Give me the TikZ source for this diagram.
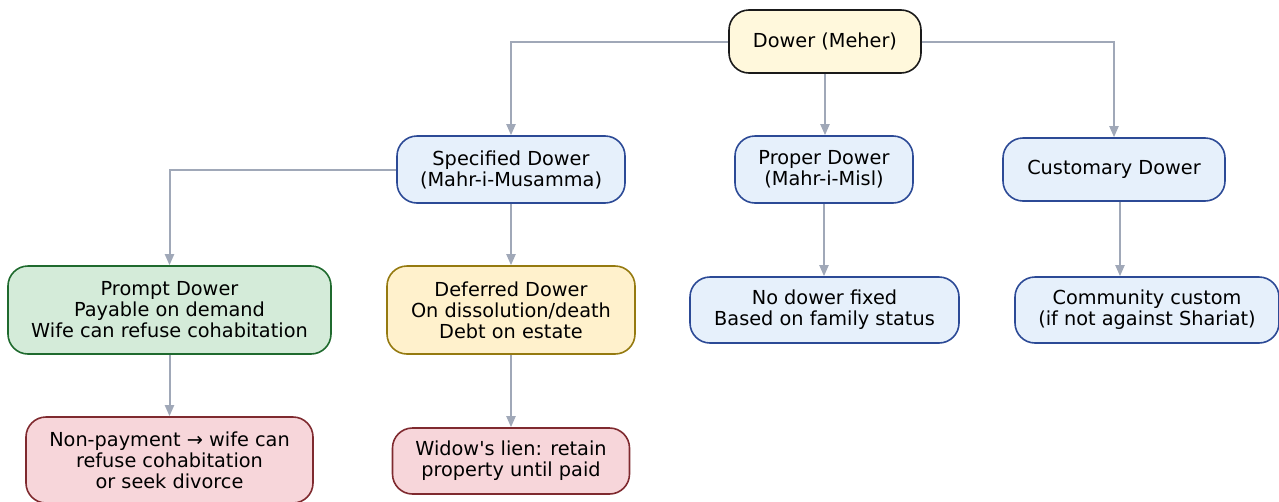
\documentclass[tikz,border=0pt]{standalone}
\usepackage{fontspec}
\setmainfont{DejaVu Sans}
\usetikzlibrary{arrows.meta, positioning}
\definecolor{RootFill}{HTML}{FFF8DC}
\definecolor{RootLine}{HTML}{1A1A1A}
\definecolor{BlueFill}{HTML}{E6F0FB}
\definecolor{BlueLine}{HTML}{2C4A96}
\definecolor{GreenFill}{HTML}{D4EBD9}
\definecolor{GreenLine}{HTML}{1F6A2E}
\definecolor{GoldFill}{HTML}{FFF1CC}
\definecolor{GoldLine}{HTML}{957A10}
\definecolor{RedFill}{HTML}{F7D6DA}
\definecolor{RedLine}{HTML}{7F2A2F}
\definecolor{EdgeGray}{HTML}{A0A8B8}

\begin{document}
\begin{tikzpicture}[
  x=1pt, y=-1pt,
  every node/.style={font=\fontsize{19.3}{21}\selectfont},
  dbox/.style={rounded corners=20pt, line width=1.6pt, align=center,
               inner sep=0pt},
  rootbox/.style={dbox, draw=RootLine, fill=RootFill},
  bluebox/.style={dbox, draw=BlueLine, fill=BlueFill},
  greenbox/.style={dbox, draw=GreenLine, fill=GreenFill},
  goldbox/.style={dbox, draw=GoldLine, fill=GoldFill},
  redbox/.style={dbox, draw=RedLine, fill=RedFill},
  arr/.style={-{Triangle[length=11pt, width=9pt]}, line width=2pt, draw=EdgeGray}
]
  \useasboundingbox (0,0) rectangle (1279,501);

  %% Row 1
  \node[rootbox, minimum width=192, minimum height=63] (dower) at (825, 41.5) {Dower (Meher)};

  %% Row 2
  \node[bluebox, minimum width=228, minimum height=67] (spec)   at (511, 169.5) {Specified Dower\\(Mahr-i-Musamma)};
  \node[bluebox, minimum width=178, minimum height=67] (proper) at (824, 169.5) {Proper Dower\\(Mahr-i-Misl)};
  \node[bluebox, minimum width=222, minimum height=63] (custom) at (1114, 169.5) {Customary Dower};

  %% Row 3
  \node[greenbox, minimum width=323, minimum height=88] (prompt)   at (169.5, 310) {Prompt Dower\\Payable on demand\\Wife can refuse cohabitation};
  \node[goldbox,  minimum width=248, minimum height=88] (deferred) at (511, 310) {Deferred Dower\\On dissolution/death\\Debt on estate};
  \node[bluebox,  minimum width=269, minimum height=66] (nofix)    at (824.5, 310) {No dower fixed\\Based on family status};
  \node[bluebox,  minimum width=264, minimum height=66] (community) at (1147, 310) {Community custom\\(if not against Shariat)};

  %% Row 4
  \node[redbox, minimum width=287, minimum height=86] (nonpay) at (169.5, 460) {Non-payment → wife can\\refuse cohabitation\\or seek divorce};
  \node[redbox, minimum width=237, minimum height=66] (lien)   at (511, 461) {Widow\textquotesingle s lien: retain\\property until paid};

  %% Arrows - Row 1 -> Row 2
  \draw[arr] (dower.west) -| (spec.north);
  \draw[arr] (dower.south) -- (dower.south |- proper.north);
  \draw[arr] (dower.east) -| (custom.north);

  %% Row 2 -> Row 3
  \draw[arr] (spec.west) -| (prompt.north);
  \draw[arr] (spec.south) -- (deferred.north);
  \draw[arr] (proper.south) -- (proper.south |- nofix.north);
  \draw[arr] ([xshift=6pt]custom.south) -- ([xshift=6pt]custom.south |- community.north);

  %% Row 3 -> Row 4
  \draw[arr] (prompt.south) -- (nonpay.north);
  \draw[arr] (deferred.south) -- (lien.north);
\end{tikzpicture}
\end{document}
